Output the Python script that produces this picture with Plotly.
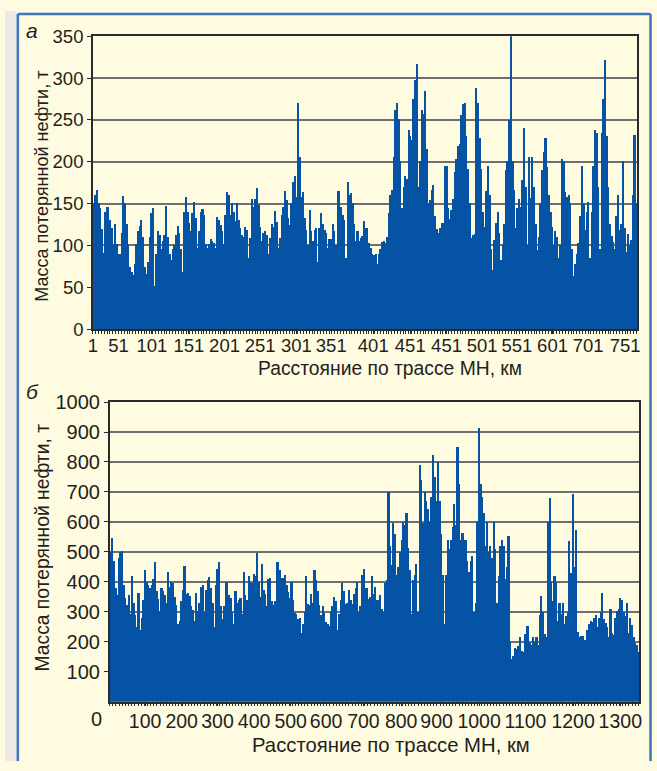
import numpy as np
import plotly.graph_objects as go

# ---------------- data ----------------
# (а) mass of lost oil along the pipeline route, sampled every ~2.3 km
mass_top = [
    150,160,166,150,145,119,91,140,146,146,
    130,120,101,125,101,90,90,115,159,150,
    125,100,74,68,64,78,101,117,123,130,
    110,74,66,80,110,138,144,51,90,117,
    112,95,105,112,147,110,90,82,95,100,
    112,123,115,95,68,140,158,140,127,117,
    138,152,132,97,117,140,143,136,101,97,
    101,107,105,103,97,134,130,124,117,101,
    136,163,160,136,
    150,140,129,150,130,120,112,110,122,118,
    85,109,155,146,155,168,148,122,105,115,
    117,112,90,108,125,122,141,128,96,108,
    136,146,165,154,133,124,150,175,183,158,
    270,205,158,164,133,118,100,142,117,105,
    118,121,80,120,139,125,118,115,96,107,
    107,125,117,100,165,165,146,136,130,85,
    176,160,162,150,125,105,117,105,109,111,
    129,120,121,
    102,96,89,88,89,78,90,95,104,105,
    102,110,139,160,166,205,262,270,251,200,
    145,170,183,179,238,230,226,275,298,317,
    170,200,262,257,284,215,150,154,166,172,
    135,119,115,120,126,127,195,195,145,131,
    142,155,188,203,218,221,255,269,270,230,
    191,150,108,112,113,288,270,228,191,140,
    122,165,195,160,95,70,106,126,140,115,
    82,100,125,
    190,201,250,351,200,166,120,145,155,146,
    178,240,170,100,205,156,205,170,125,94,
    110,150,190,211,228,193,160,140,122,100,
    117,110,85,100,203,200,163,158,160,150,
    95,63,78,90,102,135,195,150,118,140,
    152,85,140,195,238,234,170,95,234,275,
    321,230,170,125,111,104,95,135,160,118,
    125,200,120,92,113,100,106,160,232,150,
]
# (б) mass of lost oil along the second pipeline, sampled every ~4.2 km
mass_bot = [
    500,546,470,380,357,480,500,503,390,346,
    324,357,292,420,330,290,249,362,238,280,
    340,440,400,389,378,390,410,465,370,341,
    303,380,370,357,330,432,384,400,395,350,
    324,259,270,335,373,454,360,362,351,320,
    305,270,362,303,330,384,389,300,373,405,
    416,378,330,250,389,443,465,319,276,319,
    400,400,357,346,300,260,368,330,340,346,
    292,432,357,
    340,420,400,395,425,420,497,400,350,460,
    373,360,320,410,411,335,324,335,465,465,
    440,411,411,422,390,365,346,400,340,295,
    292,275,280,230,259,300,420,325,324,360,
    330,440,405,370,322,290,319,295,265,260,
    254,300,320,350,335,240,292,340,395,370,
    327,330,373,340,325,360,378,400,300,320,
    422,443,380,380,341,350,420,360,384,340,
    340,355,308,
    300,395,406,700,520,455,595,560,422,450,
    498,540,601,590,628,514,440,292,406,422,
    460,300,790,740,595,700,671,644,600,682,
    822,750,671,800,670,560,422,260,422,540,
    509,541,584,660,590,849,725,540,563,540,
    540,470,433,470,487,300,330,600,914,725,
    682,630,520,600,498,520,480,600,509,330,
    420,520,541,520,410,450,552,200,141,151,
    180,175,184,
    216,170,165,227,254,252,195,189,215,200,
    216,189,290,351,300,225,216,600,681,400,
    335,420,400,270,330,292,330,260,287,300,
    535,430,692,449,573,232,216,220,220,205,
    205,240,260,270,265,280,290,249,280,300,
    362,275,262,250,216,308,230,222,280,303,
    310,346,340,300,285,330,230,280,255,216,
    195,190,165,
]
STEP_TOP = 765 / len(mass_top)     # km per sample
STEP_BOT = 1346 / len(mass_bot)
km_top = [1 + (i + 0.5) * STEP_TOP for i in range(len(mass_top))]
km_bot = [(i + 0.5) * STEP_BOT for i in range(len(mass_bot))]

# tick labels as printed in the figure
top_tickvals = [1, 37, 84, 136, 186, 236, 287, 336, 395, 447, 498, 548, 597, 647, 697, 749]
top_ticktext = ["1", "51", "101", "151", "201", "251", "301", "351", "401",
                "451", "451", "501", "551", "601", "701", "751"]
bot_tickvals = [90, 183, 274, 367, 460, 550, 645, 741, 831, 939, 1057, 1178, 1298]
bot_ticktext = ["100", "200", "300", "400", "500", "600", "700", "800", "900",
                "1000", "1100", "1200", "1300"]

Y_TITLE = "Масса потерянной нефти, т"
X_TITLE = "Расстояние по трассе МН, км"

# ---------------- styling ----------------
W, H = 657, 771
BAR = "#0553a5"
CREAM = "#fffbe1"
FRAME = "#3d76ba"
GRID = "#6f6f6f"
AX = "#2b2b2b"
TXT = "#231f20"
FONT = "Liberation Sans, Arial, sans-serif"
NARROW = "Liberation Sans Narrow, Arial Narrow, Liberation Sans, sans-serif"


def px_x(p):
    return p / W


def px_y(p):
    return 1 - p / H


fig = go.Figure()
fig.add_trace(go.Bar(x=km_top, y=mass_top, width=STEP_TOP,
                     marker=dict(color=BAR, line=dict(width=0)),
                     xaxis="x", yaxis="y", showlegend=False))
fig.add_trace(go.Bar(x=km_bot, y=mass_bot, width=STEP_BOT,
                     marker=dict(color=BAR, line=dict(width=0)),
                     xaxis="x2", yaxis="y2", showlegend=False))

common_x = dict(showline=True, linecolor=AX, linewidth=1.5, mirror=True,
                ticks="outside", ticklen=3, tickcolor=AX, showgrid=False,
                zeroline=False, tickangle=0, fixedrange=True)
common_y = dict(showline=True, linecolor=AX, linewidth=1.5, mirror=True,
                ticks="outside", ticklen=4, tickcolor=AX, showgrid=True,
                gridcolor=GRID, gridwidth=1.5, zeroline=False, fixedrange=True)

fig.update_layout(
    width=W, height=H,
    margin=dict(l=0, r=0, t=0, b=0),
    paper_bgcolor=CREAM, plot_bgcolor=CREAM,
    bargap=0, barmode="overlay",
    font=dict(family=FONT, color=TXT),
    xaxis=dict(domain=[px_x(89), px_x(640)], anchor="y",
               range=[1, 1 + len(mass_top) * STEP_TOP],
               tickmode="array", tickvals=top_tickvals, ticktext=top_ticktext,
               tickfont=dict(size=18.5, color=TXT, family=NARROW),
               ticklabelstandoff=-4,
               minor=dict(ticks="outside", ticklen=3, tickcolor=AX, dtick=4, tick0=1,
                          showgrid=False),
               **common_x),
    yaxis=dict(domain=[px_y(327), px_y(26)], anchor="x", range=[0, 350],
               tickmode="linear", tick0=0, dtick=50,
               tickfont=dict(size=18.5, color=TXT, family=FONT), **common_y),
    xaxis2=dict(domain=[px_x(106), px_x(642)], anchor="y2",
                range=[0, len(mass_bot) * STEP_BOT],
                tickmode="array", tickvals=bot_tickvals, ticktext=bot_ticktext,
                tickfont=dict(size=19.5, color=TXT, family=NARROW),
                ticklabelstandoff=-2,
                minor=dict(ticks="outside", ticklen=3, tickcolor=AX, dtick=8, tick0=0,
                           showgrid=False),
                **common_x),
    yaxis2=dict(domain=[px_y(710), px_y(402)], anchor="x2", range=[0, 1000],
                tickmode="array", tickvals=list(range(100, 1001, 100)),
                tickfont=dict(size=20, color=TXT, family=FONT), **common_y),
)

ann = [
    dict(text="<i>а</i>", x=px_x(27), y=px_y(20), size=21, fam=FONT),
    dict(text="<i>б</i>", x=px_x(28), y=px_y(391), size=21, fam=FONT),
    dict(text=X_TITLE, x=px_x(390), y=px_y(368), size=19.3, fam=FONT),
    dict(text=X_TITLE, x=px_x(391), y=px_y(755), size=20.3, fam=FONT),
    dict(text="0", x=px_x(93), y=px_y(728), size=20, fam=FONT),
]
for a in ann:
    fig.add_annotation(text=a["text"], x=a["x"], y=a["y"], xref="paper", yref="paper",
                       xanchor="center", yanchor="middle", showarrow=False,
                       font=dict(size=a["size"], color=TXT, family=a["fam"]))
for yc, fs in ((180, 18), (552, 19.3)):
    fig.add_annotation(text=Y_TITLE, x=px_x(38), y=px_y(yc), xref="paper", yref="paper",
                       xanchor="center", yanchor="middle", showarrow=False, textangle=-90,
                       font=dict(size=fs, color=TXT, family=FONT))

# frame: grey strip on the left and blue border lines
fig.add_shape(type="rect", xref="paper", yref="paper", x0=0, x1=px_x(12), y0=0, y1=1,
              fillcolor="#efe9e6", line=dict(width=0), layer="below")
for x0, y0, x1, y1 in [(13, 771, 13, 3), (13, 3, 653.5, 3), (653.5, 3, 653.5, 771)]:
    fig.add_shape(type="line", xref="paper", yref="paper",
                  x0=px_x(x0), y0=px_y(y0), x1=px_x(x1), y1=px_y(y1),
                  line=dict(color=FRAME, width=2.5))

fig.write_html("out.html")
